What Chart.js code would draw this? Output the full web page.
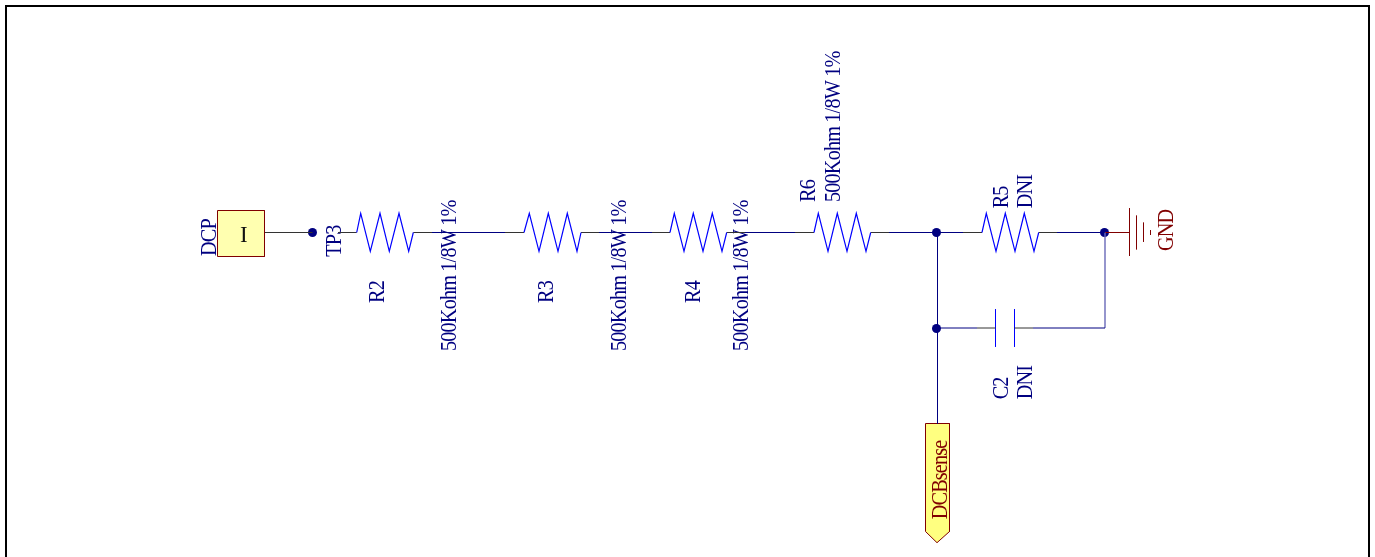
<!DOCTYPE html>
<html>
<head>
<meta charset="utf-8">
<script src="https://cdn.jsdelivr.net/npm/chart.js@4"></script>
<style>
  html, body { margin: 0; padding: 0; background: #fff; }
  canvas { display: block; }
</style>
</head>
<body>
<canvas id="sheet" width="1375" height="557"></canvas>
<script>
// sheet values (x right, y down)
const zigzagY = [232.5, 213.3, 251.3, 213.3, 251.3, 213.3, 251.3, 232.5];
const r2X = [356.7, 360.7, 370.3, 380, 389.3, 399, 408.7, 413.3];
const r3X = [524, 529.3, 539, 548.3, 558, 567.3, 577, 581];
const r4X = [670, 674.3, 684, 693.3, 703, 712.3, 722, 726.7];
const r6X = [814, 818.3, 828, 837.3, 847, 856.3, 866, 870.7];
const r5X = [982, 986.3, 996, 1005.3, 1015, 1024.3, 1034, 1038.7];

const busY = 232.5;
const capY = 328;
const pinSpans = [[265, 312.5], [338, 356.7], [413.3, 432], [505, 524], [581, 599], [652, 670],
  [726.7, 745], [795, 814], [870.7, 889], [963, 982], [1038.7, 1057]];
const wireSpans = [[432, 505], [599, 652], [745, 795], [889, 963], [1057, 1104.5]];
const capPins = [[977, 995.5], [1014.5, 1033]];
const capWires = [[937, 977], [1033, 1105]];
const capPlateX = [995.5, 1014.5];
const capPlateY = [309.3, 346.7];

const junctionX = [312.5, 936.5, 1104.5, 936.5];
const junctionY = [232.5, 232.5, 232.5, 328.5];

const gndBarX = [1129.5, 1136.5, 1143.5, 1150.5];
const gndBarTop = [208.3, 215.7, 222.7, 230];
const gndBarBottom = [256, 249.3, 241.7, 235];

const dcpPortX = [217.5, 264.5, 264.5, 217.5, 217.5];
const dcpPortY = [210.5, 210.5, 256.5, 256.5, 210.5];
const sensePortX = [925.5, 949.5, 949.5, 937, 925.5, 925.5];
const sensePortY = [423.5, 423.5, 531.5, 542.7, 531.5, 423.5];

const frameX = [6, 6, 1369, 1369];
const frameY = [557, 6, 6, 557];

const partText = ['DCP', 'TP3', 'R2', '500Kohm 1/8W 1%', 'R3', '500Kohm 1/8W 1%', 'R4', '500Kohm 1/8W 1%',
  'R6', '500Kohm 1/8W 1%', 'R5', 'DNI', 'C2', 'DNI'];
const partX = [216, 340.7, 384, 456, 553.3, 626, 700.3, 748.3, 815, 840, 1007.7, 1031.7, 1007.7, 1031.7];
const partY = [256, 256.7, 303, 351, 303, 351, 303, 351, 202, 202, 208.3, 208.3, 399.3, 399.3];

const netText = ['GND', 'DCBsense'];
const netX = [1173.3, 947.3];
const netY = [251, 519.3];

const NAVY = '#000080';
const SOFT_NAVY = '#6a6ab8';
const BLUE = '#0000ff';
const PIN = '#333333';
const MAROON = '#800000';

function line(xs, ys, color, width, extra) {
    return Object.assign({
        data: xs.map((x, i) => ({ x: x, y: ys[i] })),
        showLine: true,
        borderColor: color,
        borderWidth: width,
        pointRadius: 0,
        fill: false,
        tension: 0,
        clip: false
    }, extra || {});
}

const span = (pair, y, color) => line(pair, [y, y], color, 1);

const datasets = [
    line(frameX, frameY, '#000000', 2),
    line(r2X, zigzagY, BLUE, 1.2),
    line(r3X, zigzagY, BLUE, 1.2),
    line(r4X, zigzagY, BLUE, 1.2),
    line(r6X, zigzagY, BLUE, 1.2),
    line(r5X, zigzagY, BLUE, 1.2),
    ...pinSpans.map(p => span(p, busY, PIN)),
    ...wireSpans.map(p => span(p, busY, NAVY)),
    ...capPins.map(p => span(p, capY, PIN)),
    ...capWires.map(p => span(p, capY, NAVY)),
    ...capPlateX.map(x => line([x, x], capPlateY, BLUE, 1)),
    line([937.5, 937.5], [232.5, 423.5], NAVY, 1),
    line([1105, 1105], [232.5, 328], SOFT_NAVY, 1.4),
    span([1105, 1129.5], busY, MAROON),
    ...gndBarX.map((x, i) => line([x, x], [gndBarTop[i], gndBarBottom[i]], MAROON, 1)),
    line(dcpPortX, dcpPortY, MAROON, 1, { fill: 'shape', backgroundColor: '#ffffb0' }),
    line(sensePortX, sensePortY, MAROON, 1, { fill: 'shape', backgroundColor: '#ffff80' }),
    line(junctionX, junctionY, NAVY, 0, {
        showLine: false, pointRadius: 4.5, pointBackgroundColor: NAVY, pointBorderWidth: 0
    })
];

function drawLabel(ctx, chart, text, x, y, color, upright) {
    ctx.save();
    ctx.translate(chart.scales.x.getPixelForValue(x), chart.scales.y.getPixelForValue(y));
    if (!upright) {
        // the sheet's text is rotated and squeezed along its run
        ctx.rotate(-Math.PI / 2);
        ctx.scale(0.88, 1);
    }
    ctx.font = '23px "Liberation Serif"';
    ctx.letterSpacing = upright ? '0px' : '-0.95px';
    ctx.fillStyle = color;
    ctx.textAlign = 'left';
    ctx.textBaseline = 'alphabetic';
    ctx.fillText(text, 0, 0);
    ctx.restore();
}

const sheetText = {
    id: 'sheetText',
    beforeDatasetsDraw(chart) {
        partText.forEach((t, i) => drawLabel(chart.ctx, chart, t, partX[i], partY[i], NAVY));
    },
    afterDatasetsDraw(chart) {
        netText.forEach((t, i) => drawLabel(chart.ctx, chart, t, netX[i], netY[i], MAROON));
        drawLabel(chart.ctx, chart, 'I', 240, 242, '#111111', true);
    }
};

new Chart(document.getElementById('sheet'), {
    type: 'scatter',
    data: { datasets },
    plugins: [sheetText],
    options: {
        responsive: false,
        animation: false,
        devicePixelRatio: 1,
        layout: { padding: 0, autoPadding: false },
        plugins: { legend: { display: false }, tooltip: { enabled: false } },
        scales: {
            x: { type: 'linear', display: false, min: 0, max: 1375 },
            y: { type: 'linear', display: false, min: 0, max: 557, reverse: true }
        }
    }
});
</script>
</body>
</html>
